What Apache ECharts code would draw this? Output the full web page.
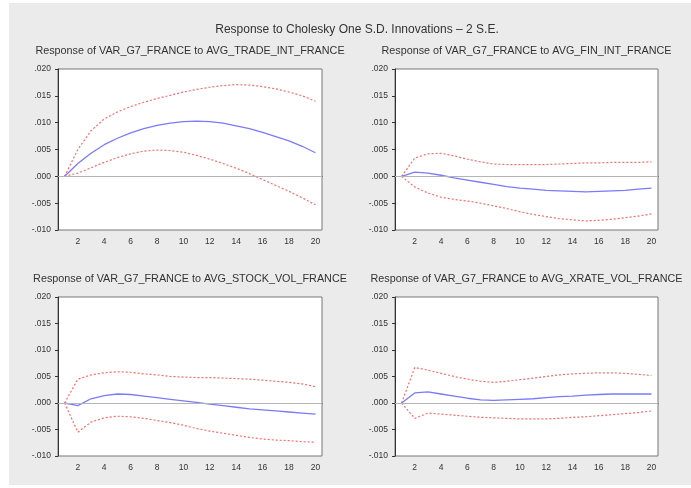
<!DOCTYPE html>
<html>
<head>
<meta charset="utf-8">
<script src="https://cdn.jsdelivr.net/npm/echarts@6/dist/echarts.min.js"></script>
<style>
html, body { margin: 0; padding: 0; background: #fff; }
#main { width: 691px; height: 488px; }
</style>
</head>
<body>
<div id="main"></div>
<script>
var periods = ['1','2','3','4','5','6','7','8','9','10','11','12','13','14','15','16','17','18','19','20'];

var panelTitles = [
	'Response of VAR_G7_FRANCE to AVG_TRADE_INT_FRANCE',
	'Response of VAR_G7_FRANCE to AVG_FIN_INT_FRANCE',
	'Response of VAR_G7_FRANCE to AVG_STOCK_VOL_FRANCE',
	'Response of VAR_G7_FRANCE to AVG_XRATE_VOL_FRANCE'
];

// response, upper band, lower band (+/- 2 S.E.)
var tradeResp = [0, 0.0024, 0.0043, 0.0059, 0.0071, 0.0081, 0.0089, 0.0095, 0.0099, 0.0102, 0.0103, 0.0102, 0.0099, 0.0094, 0.0089, 0.0082, 0.0074, 0.0066, 0.0056, 0.0044];
var tradeUp = [0, 0.0050, 0.0085, 0.0107, 0.0120, 0.0130, 0.0138, 0.0145, 0.0151, 0.0157, 0.0162, 0.0166, 0.0169, 0.0171, 0.0170, 0.0167, 0.0163, 0.0157, 0.0150, 0.0140];
var tradeLow = [0, 0.0006, 0.0016, 0.0026, 0.0035, 0.0042, 0.0047, 0.0049, 0.0048, 0.0045, 0.0039, 0.0032, 0.0024, 0.0015, 0.0005, -0.0006, -0.0017, -0.0028, -0.0040, -0.0053];

var finResp = [0, 0.0008, 0.0006, 0.0002, -0.0003, -0.0007, -0.0011, -0.0015, -0.0019, -0.0022, -0.0024, -0.0026, -0.0027, -0.0028, -0.0029, -0.0028, -0.0027, -0.0026, -0.0024, -0.0022];
var finUp = [0, 0.0034, 0.0042, 0.0043, 0.0038, 0.0032, 0.0027, 0.0023, 0.0022, 0.0022, 0.0022, 0.0022, 0.0023, 0.0024, 0.0025, 0.0025, 0.0026, 0.0026, 0.0026, 0.0027];
var finLow = [0, -0.0020, -0.0031, -0.0039, -0.0043, -0.0046, -0.0050, -0.0055, -0.0060, -0.0066, -0.0071, -0.0075, -0.0079, -0.0081, -0.0083, -0.0082, -0.0080, -0.0077, -0.0074, -0.0070];

var stockResp = [0, -0.0005, 0.0008, 0.0014, 0.0017, 0.0016, 0.0013, 0.0010, 0.0007, 0.0004, 0.0001, -0.0002, -0.0005, -0.0008, -0.0011, -0.0013, -0.0015, -0.0017, -0.0019, -0.0021];
var stockUp = [0, 0.0045, 0.0053, 0.0057, 0.0059, 0.0058, 0.0055, 0.0053, 0.0050, 0.0049, 0.0048, 0.0048, 0.0047, 0.0046, 0.0045, 0.0043, 0.0041, 0.0039, 0.0036, 0.0031];
var stockLow = [0, -0.0055, -0.0036, -0.0028, -0.0025, -0.0026, -0.0029, -0.0033, -0.0037, -0.0042, -0.0048, -0.0053, -0.0057, -0.0061, -0.0065, -0.0068, -0.0070, -0.0071, -0.0073, -0.0074];

var xrateResp = [0, 0.0019, 0.0021, 0.0017, 0.0013, 0.0009, 0.0006, 0.0005, 0.0006, 0.0007, 0.0008, 0.0010, 0.0012, 0.0013, 0.0015, 0.0016, 0.0017, 0.0017, 0.0017, 0.0017];
var xrateUp = [0, 0.0067, 0.0062, 0.0056, 0.0050, 0.0045, 0.0041, 0.0039, 0.0041, 0.0044, 0.0047, 0.0050, 0.0053, 0.0055, 0.0056, 0.0057, 0.0057, 0.0056, 0.0054, 0.0052];
var xrateLow = [0, -0.0029, -0.0019, -0.0021, -0.0023, -0.0025, -0.0027, -0.0028, -0.0029, -0.0030, -0.0030, -0.0030, -0.0029, -0.0027, -0.0026, -0.0024, -0.0022, -0.0020, -0.0018, -0.0015];

var yTicks = ['.020', '.015', '.010', '.005', '.000', '-.005', '-.010'];

var panels = [
	[tradeResp, tradeUp, tradeLow],
	[finResp, finUp, finLow],
	[stockResp, stockUp, stockLow],
	[xrateResp, xrateUp, xrateLow]
];

var font = 'Liberation Sans, Arial, sans-serif';
var boxes = [
	{ left: 58, top: 69, width: 264, height: 161 },
	{ left: 395, top: 69, width: 263, height: 161 },
	{ left: 58, top: 297, width: 264, height: 159 },
	{ left: 395, top: 297, width: 263, height: 159 }
];

var dom = document.getElementById('main');
var myChart = echarts.init(dom);

var grids = [], xAxes = [], yAxes = [], series = [];
var graphics = [{
	type: 'rect',
	shape: { x: 9, y: 3, width: 682, height: 482 },
	style: { fill: '#ebebeb' },
	z: -10
}, {
	type: 'text',
	x: 357, y: 30,
	style: {
		text: 'Response to Cholesky One S.D. Innovations \u2013 2 S.E.',
		font: '12px ' + font, fill: '#333', align: 'center', verticalAlign: 'middle'
	}
}];

boxes.forEach(function(b, i) {
	grids.push({
		left: b.left, top: b.top, width: b.width, height: b.height,
		show: true, backgroundColor: '#fff', borderColor: '#777', borderWidth: 1
	});
	graphics.push({
		type: 'text',
		x: b.left + b.width / 2, y: b.top - 18,
		style: {
			text: panelTitles[i], font: '10.8px ' + font, fill: '#333',
			align: 'center', verticalAlign: 'middle'
		}
	});
	xAxes.push({
		type: 'category', gridIndex: i, data: periods, boundaryGap: true,
		axisLine: { lineStyle: { color: '#333' } },
		axisTick: { alignWithLabel: true, interval: 0, length: 3, lineStyle: { color: '#333' } },
		axisLabel: {
			interval: function(idx) { return idx % 2 === 1; },
			fontSize: 8.5, color: '#333', fontFamily: font, margin: 7
		},
		splitLine: { show: false }
	});
	yAxes.push({
		type: 'value', gridIndex: i, min: -0.01, max: 0.02, interval: 0.005,
		axisLine: { show: true, lineStyle: { color: '#333' } },
		axisTick: { show: true, length: 3, lineStyle: { color: '#333' } },
		axisLabel: {
			fontSize: 8.5, color: '#333', fontFamily: font, margin: 7,
			formatter: function(v) {
				var k = Math.round((0.02 - v) / 0.005);
				return yTicks[k];
			}
		},
		splitLine: { show: false }
	});
	var d = panels[i];
	series.push({
		type: 'line', xAxisIndex: i, yAxisIndex: i, data: d[0],
		symbol: 'none', smooth: false,
		lineStyle: { color: '#7a7aff', width: 1.3 },
		markLine: {
			silent: true, symbol: 'none', label: { show: false },
			lineStyle: { color: '#b5b5b5', type: 'solid', width: 1 },
			data: [{ yAxis: 0 }]
		},
		z: 3
	});
	series.push({
		type: 'line', xAxisIndex: i, yAxisIndex: i, data: d[1],
		symbol: 'none',
		lineStyle: { color: '#ff6b6b', width: 1.2, type: [2, 2] },
		z: 2
	});
	series.push({
		type: 'line', xAxisIndex: i, yAxisIndex: i, data: d[2],
		symbol: 'none',
		lineStyle: { color: '#ff6b6b', width: 1.2, type: [2, 2] },
		z: 2
	});
});

myChart.setOption({
	animation: false,
	backgroundColor: '#fff',
	grid: grids,
	xAxis: xAxes,
	yAxis: yAxes,
	series: series,
	graphic: graphics
});
</script>
</body>
</html>
